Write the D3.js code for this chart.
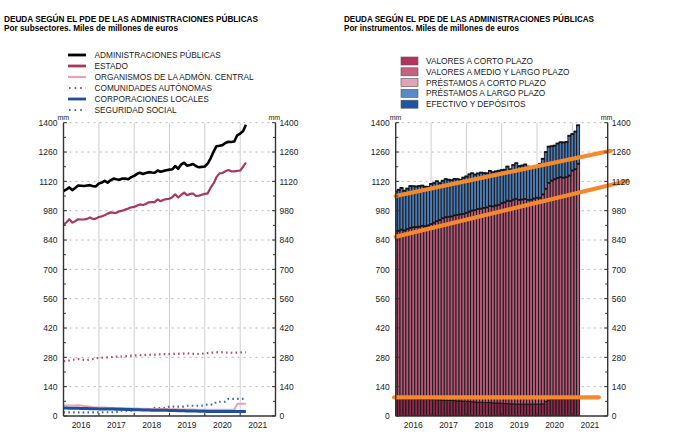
<!DOCTYPE html>
<html><head><meta charset="utf-8">
<script src="https://cdn.jsdelivr.net/npm/d3@7/dist/d3.min.js"></script>
<style>body{margin:0;background:#fff}svg{display:block;font-family:"Liberation Sans",Arial,Helvetica,sans-serif}</style>
</head><body><svg id="c" width="690" height="442"></svg>
<script>
// ---------- DATA (monthly, Jan 2016 – Mar 2021) ----------
const months = d3.timeMonth.range(new Date(2016,0,1), new Date(2021,3,1));
const admPublicas = [1074,1082,1091,1078,1088,1100,1099,1098,1100,1102,1097,1096,
 1110,1114,1123,1114,1125,1133,1130,1128,1134,1133,1130,1140,
 1146,1156,1161,1155,1160,1164,1162,1161,1172,1166,1170,1173,
 1176,1178,1193,1180,1200,1209,1195,1198,1203,1193,1187,1189,
 1191,1206,1230,1262,1288,1290,1293,1303,1309,1308,1310,1340,1348,1360,1390];
const estado = [912,925,939,923,930,939,938,938,941,948,940,942,
 950,953,958,966,972,970,970,977,980,985,990,996,
 998,1005,1010,1007,1012,1020,1021,1021,1034,1025,1032,1035,
 1037,1045,1058,1043,1055,1066,1054,1060,1062,1050,1052,1056,
 1060,1063,1090,1110,1140,1158,1160,1168,1174,1168,1168,1170,1172,1190,1210];
const organismos = [50,50,50,50,50,51,50,48,46,44,42,41,
 41,40,40,39,39,38,38,38,37,37,37,36,
 36,36,35,35,35,34,34,34,33,33,33,33,
 32,32,32,32,31,31,31,31,31,30,30,30,
 30,30,30,30,30,30,30,30,30,30,30,58,58,58,58];
const comunidades = [262,263,265,268,270,272,270,268,267,270,272,276,
 277,278,279,280,281,282,283,283,284,285,286,288,
 289,290,290,291,292,292,293,293,294,294,295,295,
 296,296,297,297,298,298,299,298,297,296,296,297,
 299,300,302,303,304,305,304,303,303,302,302,303,303,304,304];
const corporaciones = [38,38,37,37,37,37,36,36,36,35,35,35,
 34,34,34,33,33,33,32,32,32,31,31,31,
 30,30,30,29,29,29,28,28,28,27,27,27,
 26,26,26,25,25,25,24,24,24,24,23,23,
 23,22,22,22,22,22,22,21,21,21,21,21,21,21,21];
const seguridadSocial = [17,17,17,17,17,17,17,17,17,17,17,17,
 18,18,18,18,18,18,18,25,25,25,25,25,
 31,31,31,31,31,31,31,38,38,38,38,38,
 45,45,45,45,45,45,49,49,49,49,49,49,
 54,54,54,54,68,68,68,68,82,82,82,82,82,82,82];

const valCorto = [82,82,81,81,80,80,80,80,80,79,79,79,
 78,78,77,77,76,75,74,74,73,72,72,71,
 70,69,68,67,66,66,65,64,64,63,62,62,
 61,60,59,58,58,57,57,57,57,57,57,57,
 57,57,58,70,77,80,80,80,80,80,80,80,80,80,80];
const valMedioLargo = [798,801,807,803,811,816,819,820,822,827,825,829,
 836,843,851,857,866,872,875,877,883,886,889,892,
 898,905,911,914,921,922,926,930,937,936,941,944,
 953,958,967,966,973,978,973,975,977,973,974,979,
 983,983,998,1013,1034,1042,1048,1054,1058,1056,1058,1066,1090,1096,1122];
const presCorto = [4,4,4,4,4,4,4,4,4,4,4,4,4,4,4,4,4,4,4,4,4,4,4,4,4,4,4,4,4,4,4,4,
 4,4,4,4,4,4,4,4,4,4,4,4,4,4,4,4,4,4,4,4,4,4,4,4,4,4,4,4,4,4,4];
const presLargo = [186,191,195,186,189,196,192,190,190,188,185,180,
 188,185,187,172,175,178,173,169,170,167,161,169,
 170,174,174,166,165,168,163,159,163,159,159,159,
 154,152,159,148,161,166,157,158,161,155,148,145,
 143,158,166,171,169,160,157,161,163,164,164,186,170,176,180];
const efectivo = [4,4,4,4,4,4,4,4,4,4,4,4,4,4,4,4,4,4,4,4,4,4,4,4,4,4,4,4,4,4,4,4,
 4,4,4,4,4,4,4,4,4,4,4,4,4,4,4,4,4,4,4,4,4,4,4,4,4,4,4,4,4,4,4];

// hand-drawn orange trend annotations on the right chart
const trendStart = [new Date(2016,0,1), new Date(2016,0,1), new Date(2015,11,15)];
const trendEnd   = [new Date(2022,1,1), new Date(2022,6,20), new Date(2021,9,1)];
const trendV0 = [1050, 856, 89];
const trendV1 = [1266, 1122, 89];

const yTicks = [0,140,280,420,560,700,840,980,1120,1260,1400];
const yearLabels = ["2016","2017","2018","2019","2020","2021"];

const titles = ["DEUDA SEGÚN EL PDE DE LAS ADMINISTRACIONES PÚBLICAS","DEUDA SEGÚN EL PDE DE LAS ADMINISTRACIONES PÚBLICAS"];
const subtitles = ["Por subsectores. Miles de millones de euros","Por instrumentos. Miles de millones de euros"];

const lineNames = ["ADMINISTRACIONES PÚBLICAS","ESTADO","ORGANISMOS DE LA ADMÓN. CENTRAL","COMUNIDADES AUTÓNOMAS","CORPORACIONES LOCALES","SEGURIDAD SOCIAL"];
const lineSeries = [admPublicas, estado, organismos, comunidades, corporaciones, seguridadSocial];
const lineColors = ["#000000","#a8385f","#e7a3b8","#b04a70","#1c4f9c","#3a6db4"];
const lineWidths = [2.6, 2.2, 2, 2, 3, 2];
const lineDash = [null,null,null,"1.6,3.2",null,"1.6,3.2"];

const barNames = ["VALORES A CORTO PLAZO","VALORES A MEDIO Y LARGO PLAZO","PRÉSTAMOS A CORTO PLAZO","PRÉSTAMOS A LARGO PLAZO","EFECTIVO Y DEPÓSITOS"];
const barSeries = [valCorto, valMedioLargo, presCorto, presLargo, efectivo];
const barColors = ["#b5335f","#c8607f","#e3a3b7","#5a8ac4","#1f55a6"];
const barFillsInPlot = ["#8e2a4c","#b45a78","#e3a3b7","#4c7bb4","#1f55a6"];

// ---------- DRAW ----------
const svg = d3.select("#c");
const Y0 = 416, Y1 = 122.7;
const y = d3.scaleLinear().domain([0,1400]).range([Y0,Y1]);

function drawTitle(x0, i, w1, w2){
  svg.append("text").attr("x",x0).attr("y",22).attr("font-size",9).attr("font-weight","bold")
    .attr("textLength",w1).attr("lengthAdjust","spacingAndGlyphs").text(titles[i]);
  svg.append("text").attr("x",x0).attr("y",30.5).attr("font-size",9).attr("font-weight","bold")
    .attr("textLength",w2).attr("lengthAdjust","spacingAndGlyphs").text(subtitles[i]);
}

function frame(xL, xR){
  const x = d3.scaleTime().domain([new Date(2016,0,1), new Date(2022,0,1)]).range([xL,xR]);
  const g = svg.append("g");
  g.selectAll(".hg").data(yTicks.slice(1)).join("line")
    .attr("x1",xL).attr("x2",xR).attr("y1",d=>y(d)).attr("y2",d=>y(d))
    .attr("stroke","#b4b4b4").attr("stroke-width",1).attr("stroke-dasharray","2,4");
  const years = d3.timeYear.range(new Date(2017,0,1), new Date(2022,0,1));
  g.selectAll(".vg").data(years).join("line")
    .attr("x1",d=>x(d)).attr("x2",d=>x(d)).attr("y1",Y1).attr("y2",Y0)
    .attr("stroke","#cfcfcf").attr("stroke-width",1);
  return {x, g};
}

function axes(xL, xR, x){
  const g = svg.append("g");
  const fmt = d3.format("d");
  const yLeft = d3.axisLeft(y).tickValues(yTicks).tickFormat(fmt).tickSize(0).tickPadding(6);
  const yRight = d3.axisRight(y).tickValues(yTicks).tickFormat(fmt).tickSize(0).tickPadding(4);
  const gl = g.append("g").attr("transform",`translate(${xL},0)`).call(yLeft);
  const gr = g.append("g").attr("transform",`translate(${xR},0)`).call(yRight);
  [gl,gr].forEach(a=>{a.select(".domain").remove(); a.selectAll("text").attr("font-size",8.5).attr("fill","#222").attr("font-family","Liberation Sans, Arial, sans-serif");});
  g.append("line").attr("x1",xL).attr("x2",xL).attr("y1",Y1).attr("y2",Y0).attr("stroke","#333").attr("stroke-width",1.4);
  g.append("line").attr("x1",xR).attr("x2",xR).attr("y1",Y1).attr("y2",Y0).attr("stroke","#333").attr("stroke-width",1.4);
  g.append("line").attr("x1",xL).attr("x2",xR).attr("y1",Y0).attr("y2",Y0).attr("stroke","#333").attr("stroke-width",1.4);
  const all = d3.range(0,1401,70);
  all.forEach(v=>{
    const len = v%140===0 ? 3.5 : 2.5;
    g.append("line").attr("x1",xL).attr("x2",xL+len).attr("y1",y(v)).attr("y2",y(v)).attr("stroke","#333").attr("stroke-width",1);
    g.append("line").attr("x1",xR-len).attr("x2",xR).attr("y1",y(v)).attr("y2",y(v)).attr("stroke","#333").attr("stroke-width",1);
  });
  d3.timeYear.range(new Date(2017,0,1), new Date(2022,0,1)).forEach(d=>{
    g.append("line").attr("x1",x(d)).attr("x2",x(d)).attr("y1",Y0-3).attr("y2",Y0).attr("stroke","#333").attr("stroke-width",1);
  });
  g.selectAll(".yl").data(yearLabels).join("text")
    .attr("x",d=>x(new Date(+d,6,1))).attr("y",427.5).attr("text-anchor","middle")
    .attr("font-size",8.5).attr("fill","#222").text(d=>d);
  g.append("text").attr("x",xL-6).attr("y",120).attr("font-size",7).attr("fill","#222").text("mm");
  g.append("text").attr("x",xR-7).attr("y",120).attr("font-size",7).attr("fill","#222").text("mm");
}

// ---- LEFT CHART ----
drawTitle(4, 0, 254, 174);
{
  const xL = 63.5, xR = 275.5;
  const {x, g} = frame(xL, xR);
  const order = [3,5,2,4,1,0];
  order.forEach(i=>{
    const line = d3.line().x((d,j)=>x(months[j])).y(d=>y(d));
    const p = g.append("path").datum(lineSeries[i]).attr("d",line)
      .attr("fill","none").attr("stroke",lineColors[i]).attr("stroke-width",lineDash[i]?2.2:lineWidths[i])
      .attr("stroke-linejoin","round");
    if(lineDash[i]) p.attr("stroke-dasharray",lineDash[i]).attr("stroke-linecap","butt");
  });
  axes(xL, xR, x);
  const lg = svg.append("g");
  lineNames.forEach((n,i)=>{
    const yy = 55 + i*11;
    const l = lg.append("line").attr("x1",68).attr("x2",86).attr("y1",yy).attr("y2",yy)
      .attr("stroke",lineColors[i]).attr("stroke-width",lineDash[i]?2:(i===2?2.2:2.8));
    if(lineDash[i]) l.attr("stroke-dasharray","1.6,4").attr("x1",69);
    lg.append("text").attr("x",94.5).attr("y",yy+3).attr("font-size",8.3).attr("fill","#222").text(n);
  });
}

// ---- RIGHT CHART ----
drawTitle(344, 1, 250, 175);
{
  const xL = 395.7, xR = 607.7;
  const {x, g} = frame(xL, xR);
  const keys = barNames;
  const table = months.map((m,j)=>{ const o={date:m}; keys.forEach((k,i)=>o[k]=barSeries[i][j]); return o; });
  const stacked = d3.stack().keys(keys)(table);
  svg.append("clipPath").attr("id","pc").append("rect").attr("x",xL).attr("y",0).attr("width",xR-xL).attr("height",Y0);
  const bg = g.append("g").attr("clip-path","url(#pc)");
  stacked.forEach((s,i)=>{
    bg.append("g").selectAll("rect").data(s).join("rect")
      .attr("x",d=>{const a=x(d.data.date), b=x(d3.timeMonth.offset(d.data.date,1)); return a-(b-a)/2;})
      .attr("width",d=>{const a=x(d.data.date), b=x(d3.timeMonth.offset(d.data.date,1)); return b-a;})
      .attr("y",d=>y(d[1])).attr("height",d=>y(d[0])-y(d[1]))
      .attr("fill",barFillsInPlot[i]).attr("stroke","#141414").attr("stroke-width",0.9);
  });
  trendStart.forEach((d,i)=>{
    svg.append("line").attr("x1",x(d)).attr("x2",x(trendEnd[i]))
      .attr("y1",y(trendV0[i])).attr("y2",y(trendV1[i]))
      .attr("stroke","#f5892c").attr("stroke-width",4.2).attr("stroke-linecap","round");
  });
  axes(xL, xR, x);
  const lg = svg.append("g");
  barNames.forEach((n,i)=>{
    const yy = 61 + i*10.8;
    lg.append("rect").attr("x",401).attr("y",yy-4).attr("width",17).attr("height",8)
      .attr("fill",barColors[i]).attr("stroke","#555").attr("stroke-width",0.6);
    lg.append("text").attr("x",426).attr("y",yy+3).attr("font-size",8.3).attr("fill","#222").text(n);
  });
}
</script></body></html>
